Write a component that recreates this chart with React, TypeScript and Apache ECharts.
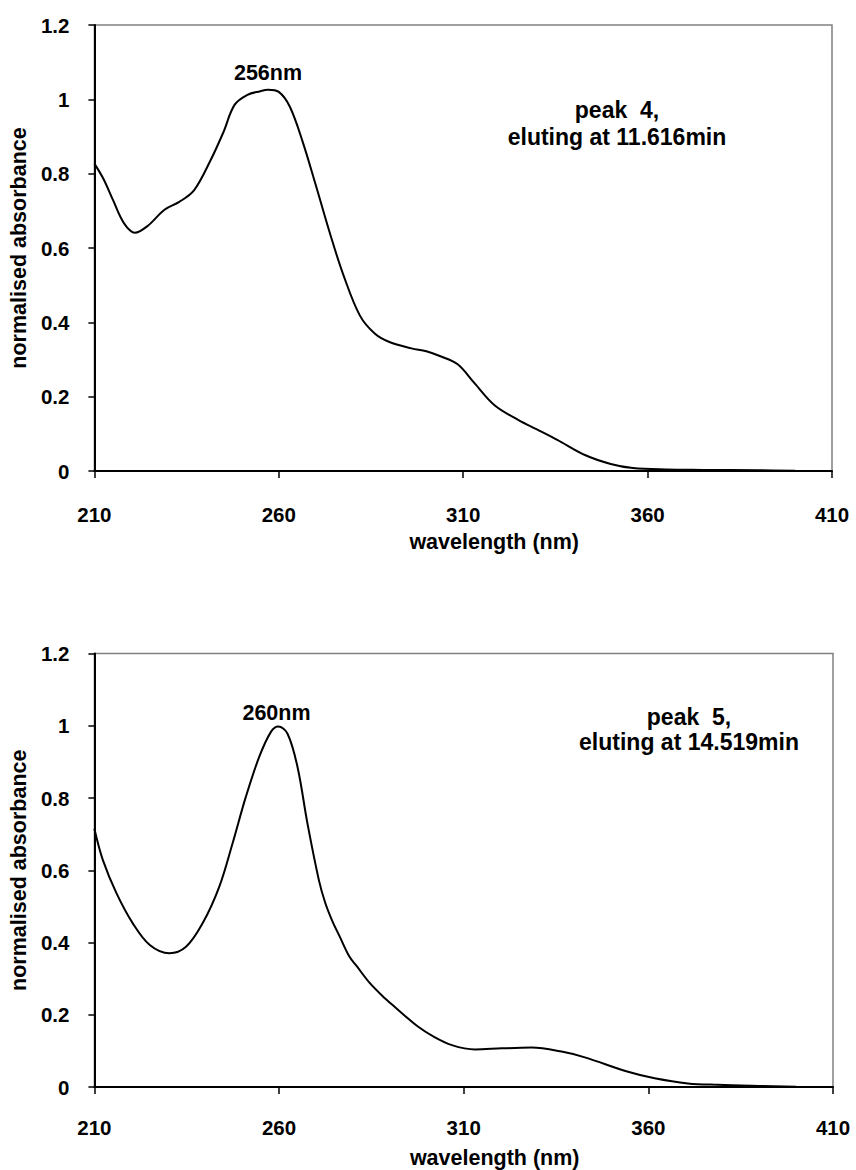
import React, { useEffect, useRef } from "react";
import * as echarts from "echarts";

// ---- data ----
const wavelengthTicks = [210, 260, 310, 360, 410];

const peak4Wavelength = [
  210, 212.5, 215, 218, 221, 224.5, 229, 233, 237, 241.5, 245, 248, 251.5, 255, 257,
  260, 263, 266.5, 270, 274, 277.6, 282, 286, 290, 296, 300, 304, 308.5, 313, 318.5,
  325, 330, 335.5, 343, 350, 356, 365, 375, 390, 400,
];
const peak4Absorbance = [
  0.827, 0.785, 0.73, 0.667, 0.641, 0.66, 0.703, 0.724, 0.755, 0.836, 0.912, 0.985, 1.012,
  1.022, 1.026, 1.02, 0.98, 0.885, 0.77, 0.635, 0.525, 0.418, 0.37, 0.347, 0.33, 0.322,
  0.308, 0.287, 0.237, 0.177, 0.137, 0.112, 0.084, 0.043, 0.019, 0.008, 0.004, 0.003,
  0.002, 0.001,
];

const peak5Wavelength = [
  210, 212.3, 216, 220.4, 225, 230.3, 234.8, 239.3, 243.8, 247.4, 251, 254.6, 257.8,
  259.8, 262.3, 265, 267.7, 270.8, 272.5, 274.4, 276.5, 279, 281, 284.3, 288, 291.5,
  294.2, 297.5, 301.4, 306.8, 313.1, 320.3, 328.4, 336.5, 342.8, 354.5, 361.7, 370.7,
  378.8, 390, 400,
];
const peak5Absorbance = [
  0.715, 0.628, 0.536, 0.453, 0.393, 0.37, 0.388, 0.453, 0.554, 0.674, 0.803, 0.913,
  0.983, 0.998, 0.978, 0.886, 0.729, 0.572, 0.51, 0.46, 0.415, 0.362, 0.335, 0.291,
  0.252, 0.22, 0.196, 0.168, 0.142, 0.116, 0.104, 0.107, 0.109, 0.098, 0.082, 0.042,
  0.024, 0.01, 0.006, 0.003, 0.001,
];

const baselineWavelength = [210, 400];
const baselineAbsorbance = [0, 0];

const xTitle = "wavelength (nm)";
const yTitle = "normalised absorbance";
const peak4Label = "256nm";
const peak5Label = "260nm";
const peak4Note = ["peak  4,", "eluting at 11.616min"];
const peak5Note = ["peak  5,", "eluting at 14.519min"];

const FONT = '"Liberation Sans", Arial, Helvetica, sans-serif';

const zip = (xs: number[], ys: number[]) => xs.map((x, i) => [x, ys[i]]);

function xAxisFor(gridIndex: number, labelMargin: number) {
  return {
    gridIndex,
    type: "value",
    min: 210,
    max: 410,
    axisLine: { show: true, onZero: false, lineStyle: { color: "#000", width: 2 } },
    axisTick: {
      show: true,
      inside: false,
      length: 7,
      customValues: wavelengthTicks,
      lineStyle: { color: "#000", width: 1.5 },
    },
    axisLabel: {
      customValues: wavelengthTicks,
      margin: labelMargin,
      color: "#000",
      fontSize: 20.5,
      fontWeight: "bold",
      fontFamily: FONT,
    },
    splitLine: { show: false },
    name: xTitle,
    nameLocation: "middle",
    nameGap: 60,
    nameTextStyle: {
      color: "#000",
      fontSize: 21.5,
      fontWeight: "bold",
      fontFamily: FONT,
      padding: [0, 0, 0, 62],
    },
  };
}

function yAxisFor(gridIndex: number) {
  return {
    gridIndex,
    type: "value",
    min: 0,
    max: 1.2,
    interval: 0.2,
    axisLine: { show: true, onZero: false, lineStyle: { color: "#000", width: 2 } },
    axisTick: { show: true, inside: false, length: 6, lineStyle: { color: "#000", width: 1.5 } },
    axisLabel: {
      margin: 25,
      color: "#000",
      fontSize: 20.5,
      fontWeight: "bold",
      fontFamily: FONT,
    },
    splitLine: { show: false },
    name: yTitle,
    nameLocation: "middle",
    nameGap: 59,
    nameTextStyle: {
      color: "#000",
      fontSize: 21.5,
      fontWeight: "bold",
      fontFamily: FONT,
    },
  };
}

function lineSeries(name: string, idx: number, xs: number[], ys: number[], width: number) {
  return {
    name,
    type: "line",
    xAxisIndex: idx,
    yAxisIndex: idx,
    data: zip(xs, ys),
    showSymbol: false,
    symbol: "none",
    smooth: 0.35,
    lineStyle: { color: "#000", width },
    silent: true,
    z: 3,
  };
}

function textEl(x: number, y: number, text: string, size: number, lineHeight?: number) {
  return {
    type: "text",
    x,
    y,
    silent: true,
    style: {
      text,
      fill: "#000",
      font: `bold ${size}px ${FONT}`,
      align: "center",
      verticalAlign: "middle",
      textAlign: "center",
      textVerticalAlign: "middle",
      lineHeight: lineHeight ?? size * 1.2,
    },
  };
}

export default function App() {
  const ref = useRef<HTMLDivElement>(null);

  useEffect(() => {
    if (!ref.current) return;
    const chart = echarts.init(ref.current, undefined, { renderer: "svg" });
    chart.setOption({
      animation: false,
      backgroundColor: "#fff",
      textStyle: { fontFamily: FONT },
      grid: [
        {
          left: 91.7,
          top: 25,
          width: 740.3,
          height: 446,
          show: true,
          borderColor: "#808080",
          borderWidth: 1.5,
          backgroundColor: "transparent",
        },
        {
          left: 93.3,
          top: 653.5,
          width: 739.7,
          height: 434,
          show: true,
          borderColor: "#808080",
          borderWidth: 1.5,
          backgroundColor: "transparent",
        },
      ],
      xAxis: [xAxisFor(0, 33), xAxisFor(1, 30)],
      yAxis: [yAxisFor(0), yAxisFor(1)],
      series: [
        lineSeries("baseline 4", 0, baselineWavelength, baselineAbsorbance, 2),
        lineSeries("peak 4", 0, peak4Wavelength, peak4Absorbance, 2),
        lineSeries("baseline 5", 1, baselineWavelength, baselineAbsorbance, 2),
        lineSeries("peak 5", 1, peak5Wavelength, peak5Absorbance, 2),
      ],
      graphic: [
        textEl(268, 72.5, peak4Label, 21.5),
        textEl(617, 123.5, peak4Note.join("\n"), 23, 27),
        textEl(276.5, 713, peak5Label, 21.5),
        textEl(689, 729, peak5Note.join("\n"), 23, 25),
      ],
    });
    return () => chart.dispose();
  }, []);

  return (
    <div
      ref={ref}
      style={{ position: "absolute", left: 0, top: 0, width: 856, height: 1170, background: "#fff" }}
    />
  );
}
